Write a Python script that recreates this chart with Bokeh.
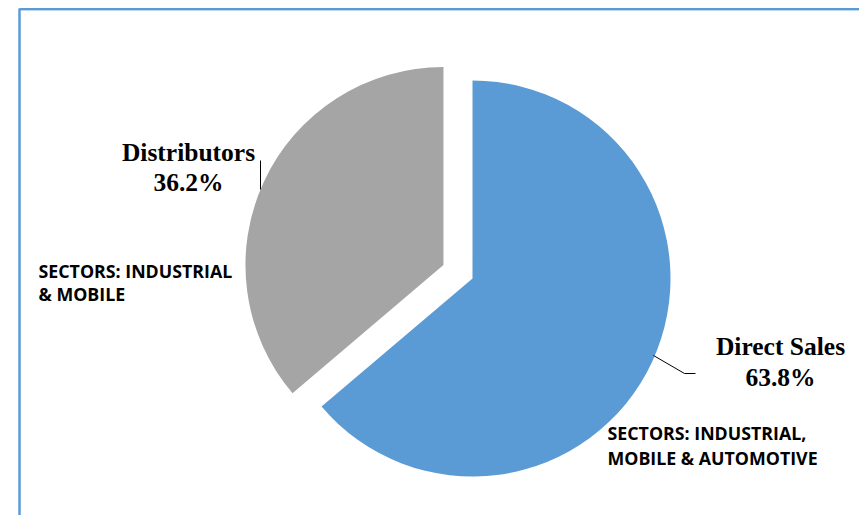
import math
from bokeh.plotting import figure
from bokeh.models import Range1d
from bokeh.core.properties import value
from bokeh.embed import file_html
from bokeh.resources import INLINE

# ---- data ----
names = ["Direct Sales", "Distributors"]
shares = [63.8, 36.2]
colors = ["#5B9BD5", "#A5A5A5"]
exploded = [0, 1]
sector_notes = [["SECTORS: INDUSTRIAL,", "MOBILE & AUTOMOTIVE"],
                ["SECTORS: INDUSTRIAL", "& MOBILE"]]

W, H = 859, 515
p = figure(width=W, height=H, output_backend="svg", toolbar_location=None,
           x_range=Range1d(0, W), y_range=Range1d(0, H),
           min_border=0, background_fill_color="white", border_fill_color="white")
p.axis.visible = False
p.grid.visible = False
p.outline_line_color = None

def Y(img_y):
    return H - img_y

# frame lines
p.line(x=[19, W], y=[Y(8.6), Y(8.6)], line_color="#5B9BD5", line_width=2)
p.line(x=[19, W], y=[Y(10), Y(10)], line_color="#BDD7EE", line_width=1)
p.line(x=[19, 19], y=[Y(8), Y(H)], line_color="#5B9BD5", line_width=2.5)

cx, cy, r = 472, Y(278), 198
explode_dist = 32

total = sum(shares)
ang = 90.0
for i, (n, s, c) in enumerate(zip(names, shares, colors)):
    sweep = s / total * 360.0
    end = ang
    start = ang - sweep
    mid = math.radians((start + end) / 2)
    d = explode_dist if exploded[i] else 0
    x0 = cx + d * math.cos(mid)
    y0 = cy + d * math.sin(mid)
    p.wedge(x=[x0], y=[y0], radius=r, start_angle=[math.radians(start)],
            end_angle=[math.radians(end)], direction="anticlock",
            fill_color=c, line_color=None)
    ang = start

# leader lines
p.line(x=[260, 260], y=[Y(160), Y(189)], line_color="#000000", line_width=1)
p.line(x=[653, 684, 695], y=[Y(355), Y(373), Y(373)], line_color="#000000", line_width=1)

# data labels
label_pos = [(780, 346, 377), (188, 152, 182)]
for (n, s), (lx, ly1, ly2) in zip(zip(names, shares), label_pos):
    p.text(x=[lx, lx], y=[Y(ly1), Y(ly2)], text=[n, f"{s:.1f}%"],
           text_font=value("Liberation Serif"), text_font_style="bold",
           text_font_size="25.5px", text_align="center", text_baseline="middle",
           text_color="#000000")

# sector notes
note_pos = [(607, 432, 457), (38, 270, 293)]
for lines, (nx, ny1, ny2) in zip(sector_notes, note_pos):
    p.text(x=[nx, nx], y=[Y(ny1), Y(ny2)], text=lines,
           text_font=value("Open Sans"), text_font_style="bold",
           text_font_size="17.8px", text_align="left", text_baseline="middle",
           text_color="#000000")

open("out.html", "w").write(file_html(p, INLINE))
